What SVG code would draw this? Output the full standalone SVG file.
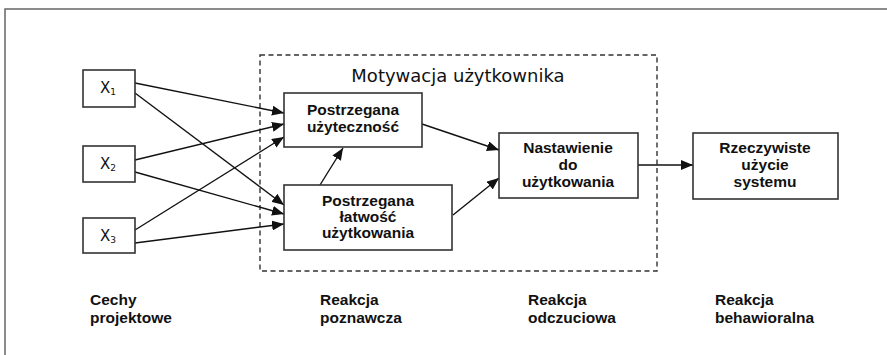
<svg xmlns="http://www.w3.org/2000/svg" width="887" height="355" viewBox="0 0 887 355">
<defs>
<marker id="ah" markerWidth="12" markerHeight="10" refX="12" refY="5" orient="auto" markerUnits="userSpaceOnUse">
<path d="M0,0 L12,5 L0,10 Z" fill="#111"/>
</marker>
<style>
.frame{fill:none;stroke:#666;stroke-width:1.5}
.box{fill:#fff;stroke:#333;stroke-width:1.6}
.dash{fill:none;stroke:#333;stroke-width:1.4;stroke-dasharray:5,3.5}
.c{fill:none;stroke:#111;stroke-width:1.4;marker-end:url(#ah)}
.t{font-family:"Liberation Sans",Arial,sans-serif;font-weight:bold;font-size:15.5px;fill:#111}
.m{text-anchor:middle}
.x{font-family:"DejaVu Sans",sans-serif;font-size:15px;fill:#111}
.title{font-family:"DejaVu Sans",sans-serif;font-size:18px;fill:#111;text-anchor:middle}
</style>
</defs>
<rect width="887" height="355" fill="#fff"/>
<rect class="frame" x="5" y="9" width="890" height="360"/>
<rect class="dash" x="260" y="55" width="397" height="216"/>
<text class="title" x="458" y="82">Motywacja użytkownika</text>

<g id="connectors">
<line class="c" x1="135" y1="83" x2="284" y2="113"/>
<line class="c" x1="135" y1="93" x2="284" y2="205"/>
<line class="c" x1="135" y1="160" x2="284" y2="124"/>
<line class="c" x1="135" y1="172" x2="284" y2="214"/>
<line class="c" x1="135" y1="230" x2="284" y2="137"/>
<line class="c" x1="135" y1="243" x2="284" y2="224"/>
<line class="c" x1="320" y1="185" x2="343" y2="148"/>
<line class="c" x1="422" y1="124" x2="499" y2="150"/>
<line class="c" x1="453" y1="215" x2="499" y2="178"/>
<line class="c" x1="638" y1="165" x2="693" y2="165"/>
</g>

<g id="x1"><rect class="box" x="83" y="70" width="52" height="37"/><text class="x" x="100" y="93">X<tspan font-size="9" dy="2">1</tspan></text></g>
<g id="x2"><rect class="box" x="83" y="146" width="52" height="36"/><text class="x" x="100" y="169">X<tspan font-size="9" dy="2">2</tspan></text></g>
<g id="x3"><rect class="box" x="83" y="218" width="52" height="35"/><text class="x" x="100" y="241">X<tspan font-size="9" dy="2">3</tspan></text></g>

<g id="uzytecznosc"><rect class="box" x="284" y="93" width="138" height="54"/>
<text class="t m" x="353" y="115">Postrzegana</text><text class="t m" x="353" y="132">użyteczność</text></g>

<g id="latwosc"><rect class="box" x="284" y="185" width="168" height="65"/>
<text class="t m" x="368" y="206">Postrzegana</text><text class="t m" x="368" y="222">łatwość</text><text class="t m" x="368" y="238">użytkowania</text></g>

<g id="nastawienie"><rect class="box" x="499" y="133" width="139" height="65"/>
<text class="t m" x="568" y="153">Nastawienie</text><text class="t m" x="568" y="170">do</text><text class="t m" x="568" y="187">użytkowania</text></g>

<g id="rzeczywiste"><rect class="box" x="693" y="133" width="145" height="66"/>
<text class="t m" x="765" y="153">Rzeczywiste</text><text class="t m" x="765" y="170">użycie</text><text class="t m" x="765" y="187">systemu</text></g>

<g id="labels">
<text class="t" x="90" y="305">Cechy</text><text class="t" x="90" y="323">projektowe</text>
<text class="t" x="320" y="305">Reakcja</text><text class="t" x="320" y="323">poznawcza</text>
<text class="t" x="528" y="305">Reakcja</text><text class="t" x="528" y="323">odczuciowa</text>
<text class="t" x="715" y="305">Reakcja</text><text class="t" x="715" y="323">behawioralna</text>
</g>
</svg>
